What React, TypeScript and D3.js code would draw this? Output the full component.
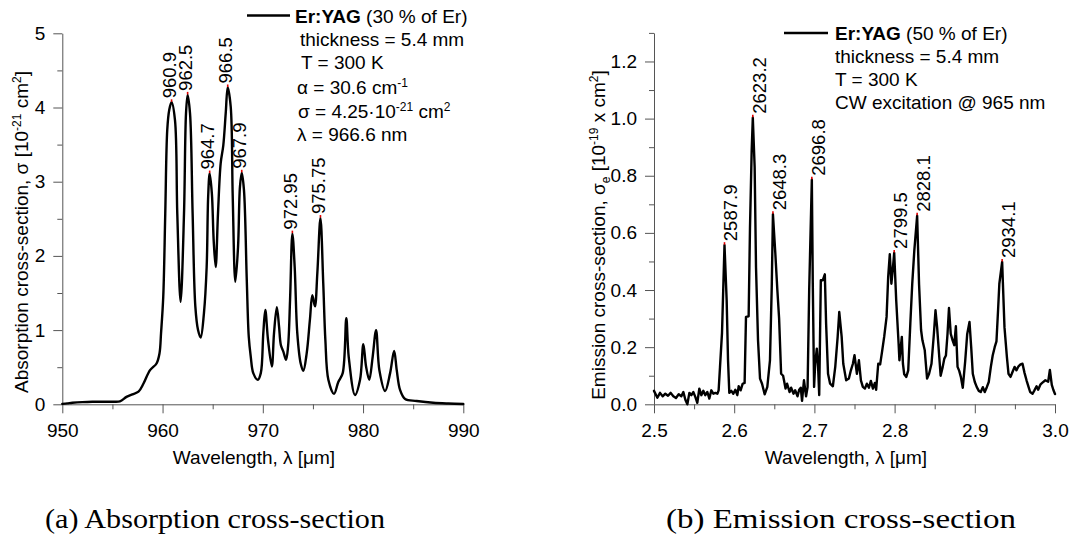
import React, { useEffect, useRef } from 'react';
import * as d3 from 'd3';

// ---------- DATA ----------
// Absorption cross-section (λ nm, σ 10^-21 cm^2)
const absorptionSpectrum: [number, number][] = [
  [950, 0.005], [950.5, 0.012], [951, 0.02], [952, 0.03], [953, 0.035], [954, 0.035], [955, 0.035],
  [955.75, 0.04], [956.4, 0.1], [957, 0.135], [957.6, 0.17], [958.1, 0.28], [958.75, 0.46], [959.4, 0.55],
  [959.7, 0.69], [959.85, 0.96], [960.07, 1.45], [960.27, 2.57], [960.47, 3.7], [960.67, 3.97], [960.9, 4.07],
  [961.24, 3.83], [961.47, 2.57], [961.8, 1.38], [962.14, 2.57], [962.34, 3.92], [962.5, 4.17], [962.74, 3.92],
  [963, 2.57], [963.27, 1.32], [963.54, 1.0], [963.8, 0.9], [964.13, 1.23], [964.4, 1.85], [964.55, 2.8],
  [964.7, 3.11], [964.92, 2.84], [965.1, 2.21], [965.3, 1.85], [965.53, 2.57], [965.8, 3.25], [966.06, 3.49],
  [966.3, 3.92], [966.5, 4.27], [966.8, 4.01], [967, 2.8], [967.26, 1.65], [967.53, 2.12], [967.72, 2.93],
  [967.9, 3.12], [968.12, 2.89], [968.4, 1.68], [968.6, 0.91], [968.8, 0.64], [969.05, 0.42], [969.5, 0.33],
  [969.8, 0.42], [970.05, 0.96], [970.25, 1.27], [970.52, 0.87], [970.9, 0.51], [971.12, 0.96], [971.4, 1.31],
  [971.62, 1.05], [971.8, 0.8], [972.05, 0.71], [972.32, 0.6], [972.52, 0.78], [972.72, 1.41], [972.95, 2.3],
  [973.18, 1.85], [973.44, 0.96], [973.78, 0.55], [974.04, 0.45], [974.38, 0.69], [974.7, 1.14], [974.94, 1.47],
  [975.2, 1.32], [975.44, 1.77], [975.75, 2.51], [976.03, 1.63], [976.24, 0.87], [976.54, 0.33], [977.1, 0.14],
  [977.53, 0.3], [977.97, 0.42], [978.33, 1.16], [978.57, 0.64], [979.2, 0.125], [979.7, 0.33], [980.03, 0.81],
  [980.3, 0.51], [980.62, 0.33], [980.96, 0.64], [981.3, 1.0], [981.63, 0.46], [982.2, 0.18], [982.7, 0.42],
  [983.1, 0.72], [983.36, 0.46], [983.7, 0.19], [984.2, 0.07], [985.35, 0.045], [987, 0.02], [988.5, 0.01],
  [990, 0.005],
];
const absPeakLabels = ['960.9', '962.5', '964.7', '966.5', '967.9', '972.95', '975.75'];
const absXTicks = [950, 960, 970, 980, 990];
const absXMinor = [955, 965, 975, 985];
const absYTicks = [0, 1, 2, 3, 4, 5];
const absYMinor = [0.5, 1.5, 2.5, 3.5, 4.5];

// Emission cross-section (λ µm, σe 10^-19 cm^2)
const emissionSpectrum: [number, number][] = [
  [2.5, 0.047], [2.5042, 0.023], [2.5075, 0.04], [2.5108, 0.028], [2.5141, 0.037], [2.5175, 0.03],
  [2.5208, 0.04], [2.5241, 0.028], [2.5274, 0.022], [2.5308, 0.035], [2.5341, 0.028], [2.5366, 0.043],
  [2.5391, 0.016], [2.5416, 0.0], [2.5441, 0.04], [2.5466, 0.032], [2.549, 0.043], [2.5515, 0.026],
  [2.554, 0.005], [2.5565, 0.055], [2.559, 0.032], [2.5615, 0.047], [2.564, 0.032], [2.5665, 0.043],
  [2.569, 0.02], [2.5715, 0.049], [2.574, 0.037], [2.5765, 0.04], [2.579, 0.037], [2.5806, 0.049],
  [2.5823, 0.13], [2.5848, 0.25], [2.5864, 0.41], [2.5879, 0.557], [2.5906, 0.364], [2.5923, 0.154],
  [2.5939, 0.04], [2.5964, 0.047], [2.5989, 0.037], [2.6014, 0.051], [2.6039, 0.032], [2.6056, 0.063],
  [2.608, 0.049], [2.6106, 0.072], [2.613, 0.075], [2.6147, 0.306], [2.618, 0.308], [2.6197, 0.62],
  [2.6218, 0.889], [2.6232, 1.003], [2.6255, 0.83], [2.6272, 0.48], [2.6297, 0.224], [2.6322, 0.09],
  [2.6347, 0.072], [2.638, 0.035], [2.6413, 0.061], [2.6446, 0.154], [2.6468, 0.41], [2.6483, 0.665],
  [2.6513, 0.527], [2.6538, 0.4], [2.656, 0.3], [2.6585, 0.107], [2.661, 0.1], [2.664, 0.055],
  [2.666, 0.072], [2.669, 0.043], [2.671, 0.058], [2.674, 0.037], [2.676, 0.049], [2.679, 0.028],
  [2.681, 0.051], [2.683, 0.058], [2.6846, 0.012], [2.687, 0.084], [2.6896, 0.028], [2.6915, 0.06],
  [2.6935, 0.4], [2.6968, 0.786], [2.698, 0.42], [2.6996, 0.061], [2.701, 0.142], [2.703, 0.195],
  [2.7046, 0.131], [2.706, 0.032], [2.708, 0.434], [2.7104, 0.434], [2.713, 0.455], [2.7146, 0.282],
  [2.717, 0.107], [2.7196, 0.072], [2.723, 0.063], [2.726, 0.131], [2.729, 0.236], [2.731, 0.323],
  [2.734, 0.236], [2.736, 0.142], [2.7396, 0.084], [2.743, 0.09], [2.7455, 0.119], [2.748, 0.142],
  [2.75, 0.172], [2.753, 0.107], [2.7555, 0.154], [2.758, 0.084], [2.7604, 0.061], [2.763, 0.055],
  [2.7654, 0.072], [2.768, 0.058], [2.7704, 0.082], [2.773, 0.055], [2.7754, 0.075], [2.777, 0.051],
  [2.7796, 0.142], [2.782, 0.14], [2.7846, 0.189], [2.787, 0.236], [2.79, 0.306], [2.792, 0.446],
  [2.794, 0.525], [2.796, 0.422], [2.798, 0.481], [2.7995, 0.53], [2.802, 0.364], [2.805, 0.212],
  [2.806, 0.154], [2.809, 0.236], [2.8104, 0.142], [2.812, 0.105], [2.8146, 0.096], [2.817, 0.119],
  [2.8196, 0.282], [2.822, 0.422], [2.8246, 0.539], [2.8281, 0.66], [2.8305, 0.42], [2.833, 0.26],
  [2.8347, 0.224], [2.8376, 0.189], [2.8405, 0.09], [2.843, 0.107], [2.846, 0.142], [2.849, 0.247],
  [2.851, 0.329], [2.853, 0.27], [2.8554, 0.177], [2.8574, 0.1], [2.86, 0.131], [2.862, 0.16],
  [2.864, 0.171], [2.866, 0.247], [2.8678, 0.337], [2.87, 0.247], [2.8723, 0.224], [2.8744, 0.207],
  [2.8764, 0.273], [2.8785, 0.131], [2.8806, 0.117], [2.8826, 0.096], [2.885, 0.058], [2.888, 0.15],
  [2.8905, 0.245], [2.8934, 0.288], [2.8955, 0.2], [2.8975, 0.107], [2.9, 0.078], [2.9025, 0.06],
  [2.905, 0.047], [2.9074, 0.043], [2.91, 0.06], [2.9124, 0.043], [2.915, 0.06], [2.9174, 0.078],
  [2.92, 0.131], [2.9223, 0.171], [2.9248, 0.2], [2.927, 0.22], [2.929, 0.329], [2.9306, 0.422],
  [2.9341, 0.498], [2.9355, 0.387], [2.937, 0.27], [2.94, 0.166], [2.942, 0.107], [2.9446, 0.096],
  [2.947, 0.113], [2.9496, 0.131], [2.952, 0.119], [2.9545, 0.133], [2.957, 0.14], [2.9595, 0.142],
  [2.962, 0.11], [2.9645, 0.084], [2.967, 0.061], [2.969, 0.043], [2.972, 0.037], [2.974, 0.047],
  [2.977, 0.063], [2.979, 0.051], [2.982, 0.07], [2.984, 0.075], [2.988, 0.084], [2.9915, 0.079],
  [2.9936, 0.12], [2.996, 0.068], [2.998, 0.05], [3.0, 0.036],
];
const emPeakLabels = ['2587.9', '2623.2', '2648.3', '2696.8', '2799.5', '2828.1', '2934.1'];
const emXTicks = [2.5, 2.6, 2.7, 2.8, 2.9, 3.0];
const emXMinor = [2.55, 2.65, 2.75, 2.85, 2.95];
const emYTicks = [0, 0.2, 0.4, 0.6, 0.8, 1.0, 1.2];
const emYMinor = [0.1, 0.3, 0.5, 0.7, 0.9, 1.1, 1.3];

// ---------- STYLE ----------
const FONT = "'Liberation Sans', Arial, Helvetica, sans-serif";
const SERIF = "'Liberation Serif', 'Times New Roman', serif";
const AXIS = '#555';
const FS = 19;

type Panel = {
  data: [number, number][];
  xDomain: [number, number];
  yDomain: [number, number];
  left: number; right: number; top: number; bottom: number;
  xTicks: number[]; xMinor: number[]; yTicks: number[]; yMinor: number[];
  xFmt: (v: number) => string; yFmt: (v: number) => string;
  curve: d3.CurveFactory;
  peaks: string[]; peakScale: number; labelDx: number;
};

const panels: Panel[] = [
  {
    data: absorptionSpectrum, xDomain: [950, 990], yDomain: [0, 5],
    left: 62.3, right: 463.3, top: 33.3, bottom: 404.3,
    xTicks: absXTicks, xMinor: absXMinor, yTicks: absYTicks, yMinor: absYMinor,
    xFmt: d3.format('d'), yFmt: d3.format('d'),
    curve: d3.curveCatmullRom.alpha(0.5),
    peaks: absPeakLabels, peakScale: 1, labelDx: -2,
  },
  {
    data: emissionSpectrum, xDomain: [2.5, 3.0], yDomain: [0, 1.3],
    left: 654, right: 1055, top: 32.9, bottom: 404.3,
    xTicks: emXTicks, xMinor: emXMinor, yTicks: emYTicks, yMinor: emYMinor,
    xFmt: d3.format('.1f'), yFmt: d3.format('.1f'),
    curve: d3.curveLinear,
    peaks: emPeakLabels, peakScale: 0.001, labelDx: 6.5,
  },
];

function drawPanel(svg: d3.Selection<SVGSVGElement, unknown, null, undefined>, p: Panel) {
  const x = d3.scaleLinear().domain(p.xDomain).range([p.left, p.right]);
  const y = d3.scaleLinear().domain(p.yDomain).range([p.bottom, p.top]);
  const g = svg.append('g').attr('class', 'plot');

  const styleAxis = (sel: d3.Selection<SVGGElement, unknown, null, undefined>) => {
    sel.attr('font-size', FS).attr('font-family', FONT);
    sel.select('.domain').attr('stroke', AXIS).attr('stroke-width', 1);
    sel.selectAll('.tick line').attr('stroke', AXIS).attr('stroke-width', 1);
    sel.selectAll('.tick text').attr('fill', '#000');
  };

  // minor ticks
  g.append('g').attr('transform', `translate(0,${p.bottom})`)
    .call(d3.axisBottom(x).tickValues(p.xMinor).tickSize(5).tickFormat(() => ''))
    .call((s) => { s.select('.domain').remove(); s.selectAll('text').remove(); s.selectAll('line').attr('stroke', AXIS); });
  g.append('g').attr('transform', `translate(${p.left},0)`)
    .call(d3.axisLeft(y).tickValues(p.yMinor).tickSize(5).tickFormat(() => ''))
    .call((s) => { s.select('.domain').remove(); s.selectAll('text').remove(); s.selectAll('line').attr('stroke', AXIS); });

  // major axes
  g.append('g').attr('transform', `translate(0,${p.bottom})`)
    .call(d3.axisBottom(x).tickValues(p.xTicks).tickSize(9).tickSizeOuter(0).tickPadding(10).tickFormat((v) => p.xFmt(+v)))
    .call(styleAxis);
  g.append('g').attr('transform', `translate(${p.left},0)`)
    .call(d3.axisLeft(y).tickValues(p.yTicks).tickSize(9).tickSizeOuter(0).tickPadding(8).tickFormat((v) => p.yFmt(+v)))
    .call(styleAxis);

  // spectrum line
  const line = d3.line<[number, number]>().x((d) => x(d[0])).y((d) => y(d[1])).curve(p.curve);
  g.append('path').datum(p.data).attr('d', line)
    .attr('fill', 'none').attr('stroke', '#000').attr('stroke-width', 2.4)
    .attr('stroke-linejoin', 'round').attr('stroke-linecap', 'round');

  // peak markers and labels
  p.peaks.forEach((lbl) => {
    const wl = +lbl * p.peakScale;
    const d = p.data.reduce((best, c) => (Math.abs(c[0] - wl) < Math.abs(best[0] - wl) ? c : best), p.data[0]);
    const px = x(d[0]);
    const py = y(d[1]);
    g.append('line').attr('x1', px).attr('x2', px).attr('y1', py - 3).attr('y2', py - 0.5)
      .attr('stroke', '#e00000').attr('stroke-width', 1.6);
    g.append('text')
      .attr('transform', `translate(${px + p.labelDx},${py - 4}) rotate(-90)`)
      .attr('dy', '0.35em').attr('text-anchor', 'start')
      .attr('font-family', FONT).attr('font-size', 18.5).attr('fill', '#000')
      .text(lbl);
  });
}

// rich text: parts with baseline shift ('' normal, '^' superscript, '_' subscript)
type Part = [string, '' | '^' | '_' | 'b'];
function Rich({ parts }: { parts: Part[] }) {
  let shift = 0;
  return (
    <>
      {parts.map(([t, kind], i) => {
        const target = kind === '^' ? -7 : kind === '_' ? 5 : 0;
        const dy = target - shift;
        shift = target;
        return (
          <tspan key={i} dy={dy || undefined}
            fontSize={kind === '^' || kind === '_' ? 12 : undefined}
            fontWeight={kind === 'b' ? 'bold' : undefined}>
            {t}
          </tspan>
        );
      })}
    </>
  );
}

export default function App() {
  const ref = useRef<SVGSVGElement>(null);
  useEffect(() => {
    if (!ref.current) return;
    const svg = d3.select(ref.current);
    svg.selectAll('g.plot').remove();
    panels.forEach((p) => drawPanel(svg, p));
  }, []);

  return (
    <svg ref={ref} width={1074} height={539} style={{ position: 'absolute', left: 0, top: 0, background: '#fff' }}
      fontFamily={FONT}>
      <rect x={0} y={0} width={1074} height={539} fill="#fff" />

      {/* Left panel titles */}
      <text x={254} y={464} textAnchor="middle" fontSize={FS}>Wavelength, λ [μm]</text>
      <text transform="translate(28,232) rotate(-90)" textAnchor="middle" fontSize={FS}>
        <Rich parts={[['Absorption cross-section, σ [10', ''], ['-21', '^'], [' cm', ''], ['2', '^'], [']', '']]} />
      </text>

      {/* Left legend */}
      <line x1={247} x2={290} y1={15.5} y2={15.5} stroke="#000" strokeWidth={2.4} />
      <text x={295} y={23} fontSize={FS}><Rich parts={[['Er:YAG', 'b'], [' (30 % of Er)', '']]} /></text>
      <text x={300} y={46} fontSize={FS}>thickness = 5.4 mm</text>
      <text x={301} y={69} fontSize={FS}>T = 300 K</text>
      <text x={297} y={94} fontSize={FS}><Rich parts={[['α = 30.6 cm', ''], ['-1', '^']]} /></text>
      <text x={298} y={118} fontSize={FS}>
        <Rich parts={[['σ = 4.25·10', ''], ['-21', '^'], [' cm', ''], ['2', '^']]} />
      </text>
      <text x={297} y={141} fontSize={FS}>λ = 966.6 nm</text>

      {/* Right panel titles */}
      <text x={846} y={464} textAnchor="middle" fontSize={FS}>Wavelength, λ [μm]</text>
      <text transform="translate(605,235) rotate(-90)" textAnchor="middle" fontSize={FS}>
        <Rich parts={[['Emission cross-section, σ', ''], ['e', '_'], [' [10', ''], ['-19', '^'], [' x cm', ''], ['2', '^'], [']', '']]} />
      </text>

      {/* Right legend */}
      <line x1={784} x2={828} y1={33} y2={33} stroke="#000" strokeWidth={2.4} />
      <text x={835} y={40} fontSize={FS}><Rich parts={[['Er:YAG', 'b'], [' (50 % of Er)', '']]} /></text>
      <text x={835} y={63} fontSize={FS}>thickness = 5.4 mm</text>
      <text x={835} y={86} fontSize={FS}>T = 300 K</text>
      <text x={835} y={109} fontSize={FS}>CW excitation @ 965 nm</text>

      {/* Captions */}
      <text x={215} y={528} textAnchor="middle" fontFamily={SERIF} fontSize={27} textLength={340} lengthAdjust="spacingAndGlyphs">
        (a) Absorption cross-section
      </text>
      <text x={841} y={528} textAnchor="middle" fontFamily={SERIF} fontSize={27} textLength={350} lengthAdjust="spacingAndGlyphs">
        (b) Emission cross-section
      </text>
    </svg>
  );
}
